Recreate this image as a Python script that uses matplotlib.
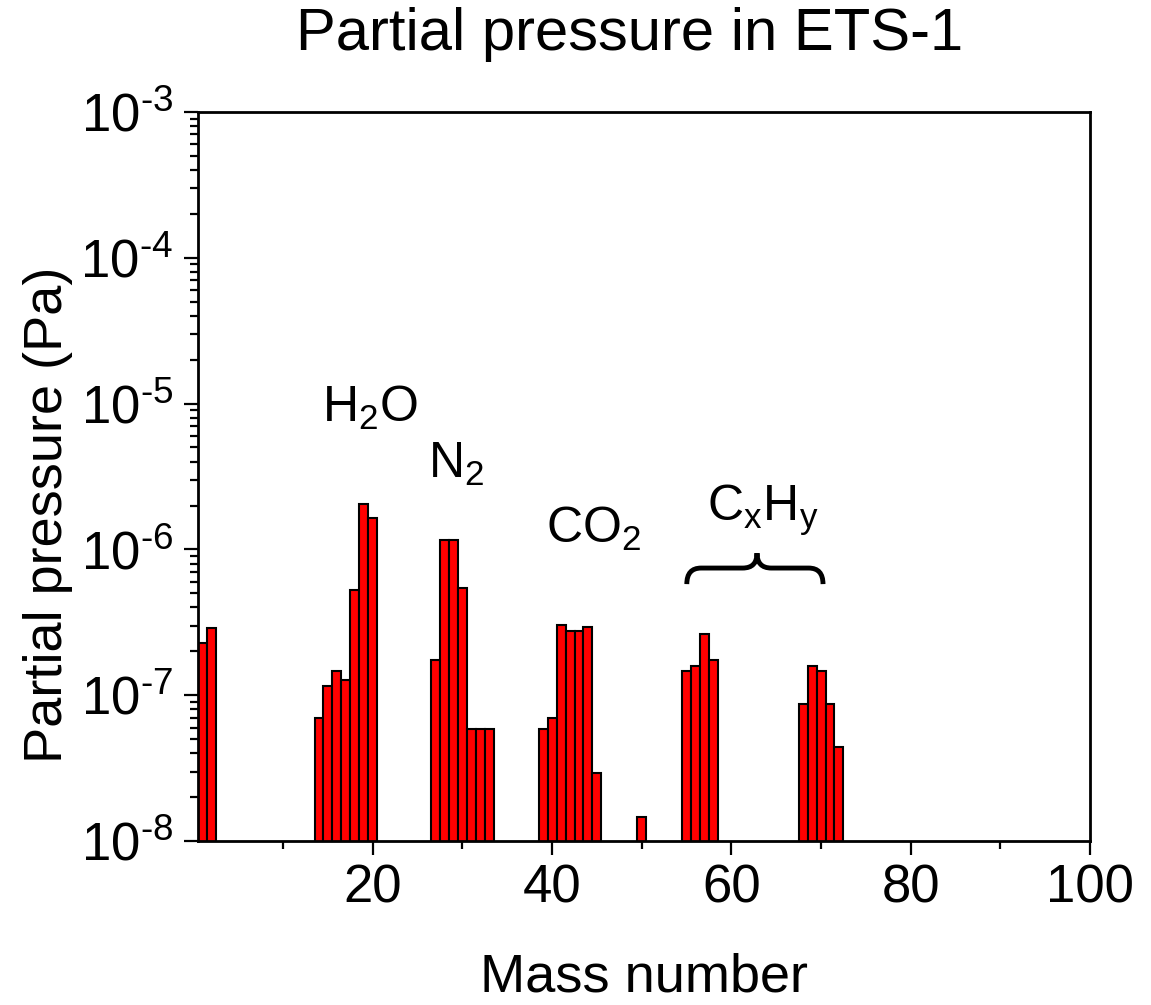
import numpy as np
import matplotlib
matplotlib.use('Agg')
import matplotlib.pyplot as plt
from matplotlib.path import Path
from matplotlib.patches import PathPatch
from matplotlib.ticker import LogLocator, NullFormatter, FixedLocator

plt.rcParams['font.family'] = ['Liberation Sans', 'DejaVu Sans']
plt.rcParams['mathtext.default'] = 'regular'

# mass numbers and partial pressures (Pa)
mass = [1, 2,
        14, 15, 16, 17, 18, 19, 20,
        27, 28, 29, 30, 31, 32, 33,
        39, 40, 41, 42, 43, 44, 45,
        50,
        55, 56, 57, 58,
        68, 69, 70, 71, 72]
pressure = [2.3e-7, 2.9e-7,
            7.0e-8, 1.16e-7, 1.46e-7, 1.28e-7, 5.3e-7, 2.05e-6, 1.64e-6,
            1.76e-7, 1.16e-6, 1.16e-6, 5.4e-7, 5.9e-8, 5.9e-8, 5.9e-8,
            5.9e-8, 7.0e-8, 3.04e-7, 2.75e-7, 2.75e-7, 2.93e-7, 2.92e-8,
            1.46e-8,
            1.46e-7, 1.58e-7, 2.64e-7, 1.75e-7,
            8.7e-8, 1.59e-7, 1.46e-7, 8.7e-8, 4.4e-8]

ytick_exp = [8, 7, 6, 5, 4, 3]

labels = ['H$_2$O', 'N$_2$', 'CO$_2$', 'C$_x$H$_y$']
label_x = [14.3, 26.2, 39.3, 57.3]
label_y = [10**-5.128, 10**-5.512, 10**-5.958, 10**-5.807]

fig = plt.figure(figsize=(11.51, 10.05), dpi=100)
ax = fig.add_axes([0.172, 0.163, 0.775, 0.7257])

ax.bar(mass, pressure, width=1.0, color='#ff0000',
       edgecolor='black', linewidth=1.5, zorder=2)

ax.set_yscale('log')
ax.set_xlim(0.5, 100)
ax.set_ylim(1e-8, 1e-3)

ax.xaxis.set_major_locator(FixedLocator([20, 40, 60, 80, 100]))
ax.xaxis.set_minor_locator(FixedLocator([10, 30, 50, 70, 90]))
ax.yaxis.set_minor_locator(LogLocator(base=10, subs=np.arange(2, 10), numticks=20))
ax.yaxis.set_minor_formatter(NullFormatter())
ax.set_yticks([10.0**-k for k in ytick_exp])
ax.set_yticklabels(['$10^{\u2010%d}$' % k for k in ytick_exp])

ax.tick_params(which='major', direction='out', length=10, width=1.6,
               labelsize=38, pad=6)
ax.tick_params(axis='y', which='major', pad=8)
ax.tick_params(which='minor', direction='out', length=6, width=1.6)
for s in ax.spines.values():
    s.set_linewidth(2)

ax.set_xlabel('Mass number', fontsize=39)
ax.xaxis.set_label_coords(0.5, -0.152)
ax.set_ylabel('Partial pressure (Pa)', fontsize=39)
ax.yaxis.set_label_coords(-0.14, 0.447)
fig.text(0.547, 0.993, 'Partial pressure in ETS-1', fontsize=43,
         ha='center', va='top')

for t, x, y in zip(labels, label_x, label_y):
    ax.text(x, y, t, fontsize=36, ha='left', va='baseline')

# brace over the hydrocarbon peaks (axes fraction)
xl, xc, xr = 0.548, 0.6267, 0.7007
y0, y1, y2 = 0.3525, 0.3745, 0.395
d = 0.016
verts = [(xl, y0), (xl, y1), (xl + d, y1),
         (xc - d, y1),
         (xc, y1), (xc, y2),
         (xc, y1), (xc + d, y1),
         (xr - d, y1),
         (xr, y1), (xr, y0)]
codes = [Path.MOVETO, Path.CURVE3, Path.CURVE3,
         Path.LINETO,
         Path.CURVE3, Path.CURVE3,
         Path.CURVE3, Path.CURVE3,
         Path.LINETO,
         Path.CURVE3, Path.CURVE3]
ax.add_patch(PathPatch(Path(verts, codes), transform=ax.transAxes,
                       fill=False, lw=3.5, color='black', capstyle='butt'))

fig.savefig('out.png', dpi=100)
